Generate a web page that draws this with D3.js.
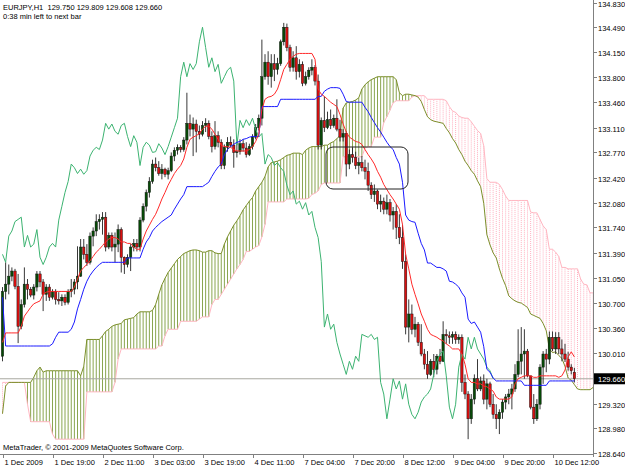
<!DOCTYPE html>
<html>
<head>
<meta charset="utf-8">
<script src="https://cdn.jsdelivr.net/npm/d3@7"></script>
<style>
  body { margin: 0; background: #fff; }
  svg { display: block; }
  text { font-family: 'Liberation Sans', Arial, sans-serif; font-size: 7.5px; fill: #000; }
</style>
</head>
<body>
<svg id="chart" width="625" height="469"></svg>
<script>
// EURJPY H1 candles, one entry per bar (bar 0 = left edge)
const opens = [
  129.97,130.86,130.96,131.07,131.14,130.93,130.38,130.68,130.96,130.89,
  130.81,130.92,131.10,130.99,130.82,130.92,130.78,130.86,130.75,130.73,
  130.78,130.71,130.86,130.89,130.99,131.07,131.47,131.37,131.26,131.62,
  131.69,131.82,131.85,131.88,131.47,131.63,131.47,131.51,131.71,131.33,
  131.23,131.33,131.47,131.52,131.47,131.84,132.03,132.22,132.37,132.61,
  132.56,132.48,132.54,132.47,132.52,132.72,132.80,132.84,132.81,132.94,
  133.17,133.09,133.16,133.06,133.02,133.14,133.17,132.99,132.85,133.00,
  132.91,132.59,132.84,132.91,132.87,132.77,132.78,132.89,132.83,132.74,
  132.85,132.98,133.11,133.24,133.81,134.01,133.81,133.99,133.91,133.99,
  134.29,134.49,134.21,133.94,134.07,133.88,133.98,133.72,133.81,133.90,
  133.94,133.75,132.87,133.21,133.11,133.22,133.14,133.24,133.09,132.98,
  133.03,132.61,132.74,132.70,132.59,132.63,132.56,132.51,132.32,132.19,
  132.24,132.06,132.10,131.99,132.08,131.91,131.96,131.74,131.60,131.27,
  130.37,130.55,130.34,130.41,130.16,130.00,129.86,129.72,129.90,129.79,
  129.97,129.90,130.27,130.25,130.23,130.27,130.20,130.23,129.61,129.45,
  129.11,129.38,129.66,129.52,129.63,129.38,129.59,129.31,129.17,129.11,
  129.20,129.34,129.41,129.45,129.52,129.72,129.90,130.00,130.04,129.70,
  129.27,129.11,129.31,129.82,130.00,129.93,130.23,130.07,130.23,130.07,
  130.00,129.93,129.82,129.75
];
const highs = [
  130.92,131.26,131.23,131.19,131.17,131.10,130.75,131.19,131.03,130.92,
  130.96,131.14,131.14,131.03,130.96,130.96,130.89,130.89,130.85,130.82,
  130.82,130.89,131.03,131.03,131.48,131.58,131.58,131.51,131.67,131.74,
  131.92,131.92,131.95,131.95,131.67,131.67,131.67,131.78,131.74,131.34,
  131.37,131.51,131.58,131.58,131.88,132.07,132.26,132.43,132.67,132.70,
  132.65,132.61,132.56,132.56,132.77,132.84,132.88,132.87,132.98,133.59,
  133.29,133.25,133.22,133.14,133.20,133.24,133.21,133.06,133.20,133.06,
  132.95,132.88,132.98,132.99,132.95,132.91,132.95,132.95,132.91,132.89,
  133.02,133.16,133.29,134.32,134.12,134.16,134.12,134.12,134.07,134.32,
  134.55,134.54,134.25,134.16,134.23,134.05,134.02,133.88,133.94,134.05,
  133.97,133.84,133.25,133.54,133.33,133.36,133.29,133.50,133.22,133.09,
  133.06,132.81,132.84,132.78,132.70,132.72,132.67,132.63,132.36,132.33,
  132.26,132.19,132.15,132.19,132.13,132.02,132.06,131.92,131.78,131.37,
  130.75,130.68,130.51,130.44,130.41,130.07,130.04,129.93,130.00,130.00,
  130.07,130.45,130.34,130.31,130.31,130.31,130.27,130.27,129.72,129.49,
  129.45,129.72,129.93,129.69,129.72,129.66,129.62,129.45,129.31,129.24,
  129.38,129.45,129.52,129.59,129.86,130.34,130.37,130.34,130.07,129.70,
  129.45,129.38,129.86,130.04,130.07,130.31,130.31,130.30,130.30,130.20,
  130.14,130.03,129.86,129.81
];
const lows = [
  129.90,130.75,130.82,131.00,130.89,130.15,130.34,130.64,130.75,130.78,
  130.75,130.86,130.92,130.59,130.73,130.73,130.75,130.68,130.68,130.66,
  130.67,130.68,130.78,130.82,130.89,131.06,131.30,131.21,131.23,131.48,
  131.62,131.71,131.64,131.41,131.44,131.41,131.26,131.40,131.12,131.10,
  131.19,131.14,131.41,131.41,131.41,131.81,131.96,132.15,132.34,132.51,
  132.45,132.40,132.43,132.40,132.50,132.65,132.74,132.77,132.78,132.88,
  132.99,132.72,132.77,132.95,132.99,133.05,132.95,132.77,132.81,132.84,
  132.54,132.54,132.78,132.84,132.56,132.70,132.74,132.78,132.70,132.72,
  132.81,132.95,133.07,133.14,133.77,133.70,133.66,133.75,133.84,133.96,
  134.24,134.16,133.88,133.88,133.77,133.80,133.68,133.69,133.77,133.83,
  133.69,132.81,132.81,133.05,133.09,133.09,133.11,133.06,132.92,132.92,
  132.44,132.54,132.63,132.54,132.47,132.51,132.40,132.24,132.13,132.09,
  131.99,131.95,131.92,131.92,131.82,131.71,131.58,131.51,131.17,130.27,
  130.16,130.27,130.23,130.11,129.97,129.79,129.66,129.70,129.68,129.72,
  129.86,129.89,130.14,130.14,130.14,130.14,130.14,129.48,129.38,128.83,
  129.04,129.31,129.49,129.49,129.31,129.24,129.27,129.11,128.97,128.90,
  129.11,129.24,129.31,129.24,129.48,129.68,129.72,129.66,129.68,129.24,
  129.04,129.08,129.24,129.59,129.75,129.86,130.04,130.00,130.00,129.90,
  129.89,129.77,129.72,129.61
];
const closes = [
  130.86,130.96,131.07,131.14,130.93,130.38,130.68,130.96,130.89,130.81,
  130.92,131.10,130.99,130.82,130.92,130.78,130.86,130.75,130.73,130.78,
  130.71,130.86,130.89,130.99,131.07,131.47,131.37,131.26,131.62,131.69,
  131.82,131.85,131.88,131.47,131.63,131.47,131.51,131.71,131.33,131.23,
  131.33,131.47,131.52,131.47,131.84,132.03,132.22,132.37,132.61,132.56,
  132.48,132.54,132.47,132.52,132.72,132.80,132.84,132.81,132.94,133.17,
  133.09,133.16,133.06,133.02,133.14,133.17,132.99,132.85,133.00,132.91,
  132.59,132.84,132.91,132.87,132.77,132.78,132.89,132.83,132.74,132.85,
  132.98,133.11,133.24,133.81,134.01,133.81,133.99,133.91,133.99,134.29,
  134.49,134.21,133.94,134.07,133.88,133.98,133.72,133.81,133.90,133.94,
  133.75,132.87,133.21,133.11,133.22,133.14,133.24,133.09,132.98,133.03,
  132.61,132.74,132.70,132.59,132.63,132.56,132.51,132.32,132.19,132.24,
  132.06,132.10,131.99,132.08,131.91,131.96,131.74,131.60,131.27,130.37,
  130.55,130.34,130.41,130.16,130.00,129.86,129.72,129.90,129.79,129.97,
  129.90,130.27,130.25,130.23,130.27,130.20,130.23,129.61,129.45,129.11,
  129.38,129.66,129.52,129.63,129.38,129.59,129.31,129.17,129.11,129.20,
  129.34,129.41,129.45,129.52,129.72,129.90,130.00,130.04,129.70,129.27,
  129.11,129.31,129.82,130.00,129.93,130.23,130.07,130.23,130.07,130.00,
  129.93,129.82,129.77,129.66
];

// Ichimoku lines, per bar
const tenkan = [
  130.16,130.29,130.29,130.29,130.29,130.29,130.38,130.52,130.58,130.64,
  130.69,130.71,130.73,130.82,130.85,130.86,130.86,130.86,130.86,130.86,
  130.86,130.86,130.86,130.92,131.03,131.14,131.19,131.23,131.28,131.34,
  131.40,131.44,131.49,131.54,131.58,131.60,131.60,131.58,131.54,131.54,
  131.52,131.52,131.47,131.44,131.44,131.58,131.69,131.77,131.85,131.92,
  132.02,132.13,132.22,132.32,132.40,132.48,132.54,132.59,132.68,132.84,
  132.95,132.98,133.00,133.03,133.09,133.13,133.13,133.09,133.02,132.95,
  132.87,132.85,132.85,132.84,132.81,132.79,132.79,132.79,132.79,132.81,
  132.85,132.92,133.02,133.36,133.50,133.53,133.54,133.57,133.64,133.77,
  133.91,133.98,134.05,134.09,134.12,134.13,134.13,134.13,134.13,134.13,
  134.05,133.64,133.57,133.54,133.50,133.46,133.43,133.40,133.29,133.16,
  133.05,132.98,132.95,132.92,132.91,132.88,132.81,132.74,132.68,132.61,
  132.51,132.43,132.33,132.26,132.19,132.13,132.06,131.99,131.78,131.37,
  131.17,130.96,130.82,130.69,130.55,130.45,130.34,130.27,130.25,130.23,
  130.20,130.18,130.14,130.11,130.07,130.07,130.07,130.00,129.86,129.66,
  129.61,129.61,129.59,129.59,129.56,129.55,129.52,129.49,129.41,129.38,
  129.38,129.38,129.38,129.41,129.59,129.66,129.68,129.70,129.70,129.70,
  129.68,129.68,129.70,129.70,129.70,129.70,129.70,129.70,129.68,129.70,
  129.78,129.96,130.03,129.96
];
const kijun = [
  130.78,130.11,130.11,130.11,130.11,130.11,130.11,130.11,130.11,130.11,
  130.11,130.11,130.11,130.11,130.11,130.11,130.14,130.23,130.30,130.30,
  130.30,130.30,130.34,130.44,130.62,130.75,130.89,131.00,131.08,131.14,
  131.19,131.23,131.26,131.26,131.26,131.26,131.26,131.26,131.26,131.26,
  131.32,131.32,131.32,131.32,131.32,131.44,131.54,131.60,131.69,131.74,
  131.78,131.82,131.85,131.88,131.91,131.99,132.06,132.13,132.19,132.30,
  132.30,132.30,132.30,132.30,132.30,132.33,132.36,132.44,132.51,132.57,
  132.61,132.74,132.81,132.85,132.88,132.91,132.92,132.95,132.96,132.98,
  132.99,132.99,132.99,133.40,133.40,133.40,133.40,133.40,133.40,133.50,
  133.50,133.50,133.50,133.50,133.50,133.50,133.50,133.50,133.50,133.50,
  133.50,133.54,133.54,133.61,133.64,133.66,133.66,133.66,133.65,133.57,
  133.47,133.46,133.46,133.46,133.46,133.46,133.39,133.33,133.25,133.18,
  133.11,133.05,132.98,132.91,132.85,132.81,132.70,132.61,132.36,131.91,
  131.84,131.82,131.81,131.66,131.52,131.43,131.25,131.25,131.22,131.19,
  131.19,131.17,131.14,131.00,130.99,130.96,130.92,130.84,130.78,130.48,
  130.42,130.44,130.37,130.30,130.10,129.79,129.75,129.67,129.63,129.63,
  129.63,129.63,129.63,129.63,129.63,129.63,129.63,129.57,129.57,129.57,
  129.57,129.57,129.57,129.57,129.57,129.63,129.63,129.63,129.63,129.63,
  129.63,129.63,129.63,129.63
];
// senkou spans run 26 bars past the last candle
const senkouA = [
  129.18,129.56,129.61,129.61,129.61,129.61,129.61,129.61,129.61,129.61,
  129.68,129.77,129.82,129.75,129.77,129.77,129.77,129.77,129.77,129.77,
  129.77,129.77,129.77,129.77,129.77,129.70,129.83,130.20,130.20,130.20,
  130.20,130.20,130.25,130.31,130.34,130.38,130.40,130.41,130.42,130.47,
  130.48,130.49,130.50,130.55,130.58,130.58,130.58,130.58,130.60,130.68,
  130.82,130.95,131.04,131.12,131.18,131.24,131.30,131.34,131.38,131.40,
  131.42,131.43,131.43,131.42,131.40,131.40,131.42,131.42,131.39,131.38,
  131.38,131.51,131.61,131.69,131.77,131.83,131.90,131.98,132.04,132.10,
  132.15,132.24,132.30,132.36,132.44,132.57,132.63,132.64,132.65,132.67,
  132.70,132.73,132.74,132.76,132.76,132.76,132.74,132.80,132.83,132.85,
  132.85,132.85,132.85,132.87,132.87,132.90,132.92,132.96,133.00,133.38,
  133.45,133.46,133.47,133.49,133.52,133.64,133.70,133.74,133.77,133.79,
  133.81,133.81,133.81,133.81,133.81,133.81,133.77,133.59,133.55,133.57,
  133.57,133.56,133.55,133.53,133.47,133.36,133.26,133.22,133.20,133.19,
  133.18,133.17,133.10,133.04,132.96,132.90,132.81,132.74,132.65,132.59,
  132.52,132.47,132.38,132.30,132.07,131.64,131.50,131.39,131.32,131.17,
  131.04,130.94,130.80,130.76,130.73,130.71,130.70,130.67,130.64,130.55,
  130.53,130.51,130.49,130.42,130.32,130.07,130.02,130.03,129.98,129.94,
  129.83,129.67,129.64,129.58,129.52,129.51,129.51,129.51,129.51,129.54,
  129.61
];
const senkouB = [
  129.61,129.61,129.61,129.61,129.61,129.61,129.61,129.61,129.31,129.07,
  129.07,129.07,129.07,129.07,129.07,129.07,128.90,128.83,128.83,128.83,
  128.83,128.83,128.83,128.83,128.83,128.83,128.83,129.48,129.48,129.48,
  129.48,129.48,129.48,129.48,129.48,129.48,129.61,129.93,130.07,130.07,
  130.07,130.07,130.07,130.07,130.07,130.07,130.07,130.07,130.07,130.07,
  130.11,130.11,130.25,130.34,130.34,130.34,130.34,130.45,130.45,130.45,
  130.45,130.45,130.45,130.48,130.51,130.51,130.51,130.68,130.75,130.75,
  130.82,130.89,130.96,131.03,131.10,131.17,131.23,131.30,131.41,131.41,
  131.44,131.47,131.49,131.61,131.78,132.09,132.09,132.09,132.09,132.09,
  132.09,132.13,132.13,132.13,132.13,132.13,132.13,132.13,132.14,132.19,
  132.21,132.24,132.33,132.35,132.35,132.35,132.35,132.35,132.35,132.71,
  132.71,132.71,132.71,132.71,132.71,132.71,132.83,132.85,132.85,132.98,
  132.98,132.98,133.18,133.26,133.35,133.45,133.48,133.48,133.48,133.48,
  133.48,133.53,133.55,133.55,133.55,133.55,133.50,133.50,133.50,133.50,
  133.50,133.50,133.48,133.40,133.34,133.32,133.27,133.25,133.24,133.24,
  133.19,133.13,133.07,133.03,132.86,132.41,132.36,132.36,132.36,132.33,
  132.26,132.17,132.11,132.11,132.11,132.11,132.11,132.11,132.11,131.95,
  131.94,131.94,131.85,131.76,131.71,131.44,131.44,131.40,131.34,131.19,
  131.19,131.17,131.17,131.17,131.17,131.03,130.96,130.95,130.84,130.84,
  130.81
];
const chikouShift = 26;

const timeLabels = ["1 Dec 2009","1 Dec 19:00","2 Dec 11:00","3 Dec 03:00","3 Dec 19:00","4 Dec 11:00",
  "7 Dec 04:00","7 Dec 20:00","8 Dec 12:00","9 Dec 04:00","9 Dec 20:00","10 Dec 12:00"];
const priceLabels = ["134.830","134.490","134.150","133.800","133.460","133.110","132.770","132.420",
  "132.080","131.740","131.390","131.050","130.700","130.360","130.010","129.320","128.980","128.640"];
const bid = 129.66;
const header = "EURJPY,H1  129.750 129.809 129.608 129.660";
const subHeader = "0:38 min left to next bar";
const footer = "MetaTrader, \u00a9 2001-2009 MetaQuotes Software Corp.";

/* layout */
const W = 625, H = 469;
const plotR = 593, plotB = 454;
const svg = d3.select('#chart');

const x = d3.scaleLinear().domain([0, 16]).range([2.5, 52.5]); // 3.125px per bar
const y = d3.scaleLinear().domain([128.64, 134.83]).range([453, 2.5]);

svg.append('defs').append('clipPath').attr('id', 'plot')
  .append('rect').attr('x', 0).attr('y', 0).attr('width', plotR).attr('height', plotB);

const plot = svg.append('g').attr('clip-path', 'url(#plot)');

// cloud hatch, one vertical stroke per bar
const hatch = plot.append('g');
senkouA.forEach(function(a, i) {
  const b = senkouB[i];
  const up = a >= b;
  hatch.append('line')
    .attr('x1', x(i)).attr('x2', x(i))
    .attr('y1', y(a)).attr('y2', y(b))
    .attr('stroke', up ? '#6b8e23' : '#ffb0c0')
    .attr('stroke-width', 1)
    .attr('stroke-opacity', up ? 0.8 : 1)
    .attr('stroke-dasharray', up ? null : '1,1');
});

const line = d3.line().x((d, i) => x(i)).y(d => y(d));
plot.append('path').attr('d', line(senkouB)).attr('fill', 'none').attr('stroke', '#ffb6c1').attr('stroke-width', 1);
plot.append('path').attr('d', line(senkouA)).attr('fill', 'none').attr('stroke', '#7b8f2a').attr('stroke-width', 1);

// bid line
plot.append('line').attr('x1', 0).attr('x2', plotR).attr('y1', y(bid)).attr('y2', y(bid))
  .attr('stroke', '#a8a8a0').attr('stroke-width', 1);

// candles
const cg = plot.append('g');
closes.forEach(function(c, i) {
  const o = opens[i];
  const cx = x(i);
  cg.append('line').attr('x1', cx).attr('x2', cx).attr('y1', y(highs[i])).attr('y2', y(lows[i]))
    .attr('stroke', '#222').attr('stroke-width', 0.9);
  const top = y(Math.max(o, c)), bot = y(Math.min(o, c));
  cg.append('rect').attr('x', cx - 1.2).attr('width', 2.4)
    .attr('y', top).attr('height', Math.max(1, bot - top))
    .attr('fill', c >= o ? '#064a06' : '#d81010')
    .attr('stroke', '#111').attr('stroke-width', 0.45);
});

// indicator lines
const chikou = closes.slice(chikouShift);
plot.append('path').attr('d', line(chikou)).attr('fill', 'none').attr('stroke', '#3cb371').attr('stroke-width', 1);
plot.append('path').attr('d', line(kijun)).attr('fill', 'none').attr('stroke', '#1a1aff').attr('stroke-width', 1);
plot.append('path').attr('d', line(tenkan)).attr('fill', 'none').attr('stroke', '#ff2a2a').attr('stroke-width', 1);

// rounded annotation box
plot.append('rect').attr('x', 326).attr('y', 147).attr('width', 82).attr('height', 42)
  .attr('rx', 7).attr('fill', 'none').attr('stroke', '#222').attr('stroke-width', 1);

// axes
svg.append('line').attr('x1', plotR + 0.5).attr('x2', plotR + 0.5).attr('y1', 0).attr('y2', plotB + 3)
  .attr('stroke', '#808080');
svg.append('line').attr('x1', 0).attr('x2', plotR + 0.5).attr('y1', plotB + 0.5).attr('y2', plotB + 0.5)
  .attr('stroke', '#808080');

priceLabels.forEach(function(t) {
  const py = Math.round(y(+t)) + 0.5;
  svg.append('line').attr('x1', plotR).attr('x2', plotR + 4).attr('y1', py).attr('y2', py).attr('stroke', '#808080');
  svg.append('text').attr('x', plotR + 5).attr('y', py + 3).text(t);
});

timeLabels.forEach(function(t, k) {
  const tx = Math.round(x(k * 16)) + 0.5;
  svg.append('line').attr('x1', tx).attr('x2', tx).attr('y1', plotB).attr('y2', plotB + 4).attr('stroke', '#808080');
  svg.append('text').attr('x', tx + 1).attr('y', plotB + 11).text(t);
});

// current price marker
const by = y(bid);
svg.append('rect').attr('x', plotR + 1).attr('y', by - 5.5).attr('width', W - plotR - 1).attr('height', 11).attr('fill', '#000');
svg.append('text').attr('x', plotR + 5).attr('y', by + 3).style('fill', '#fff').text(bid.toFixed(3));

svg.append('text').attr('x', 3).attr('y', 10).text(header).style('white-space', 'pre');
svg.append('text').attr('x', 3).attr('y', 19).text(subHeader);
svg.append('text').attr('x', 3).attr('y', 450).text(footer);
</script>
</body>
</html>
